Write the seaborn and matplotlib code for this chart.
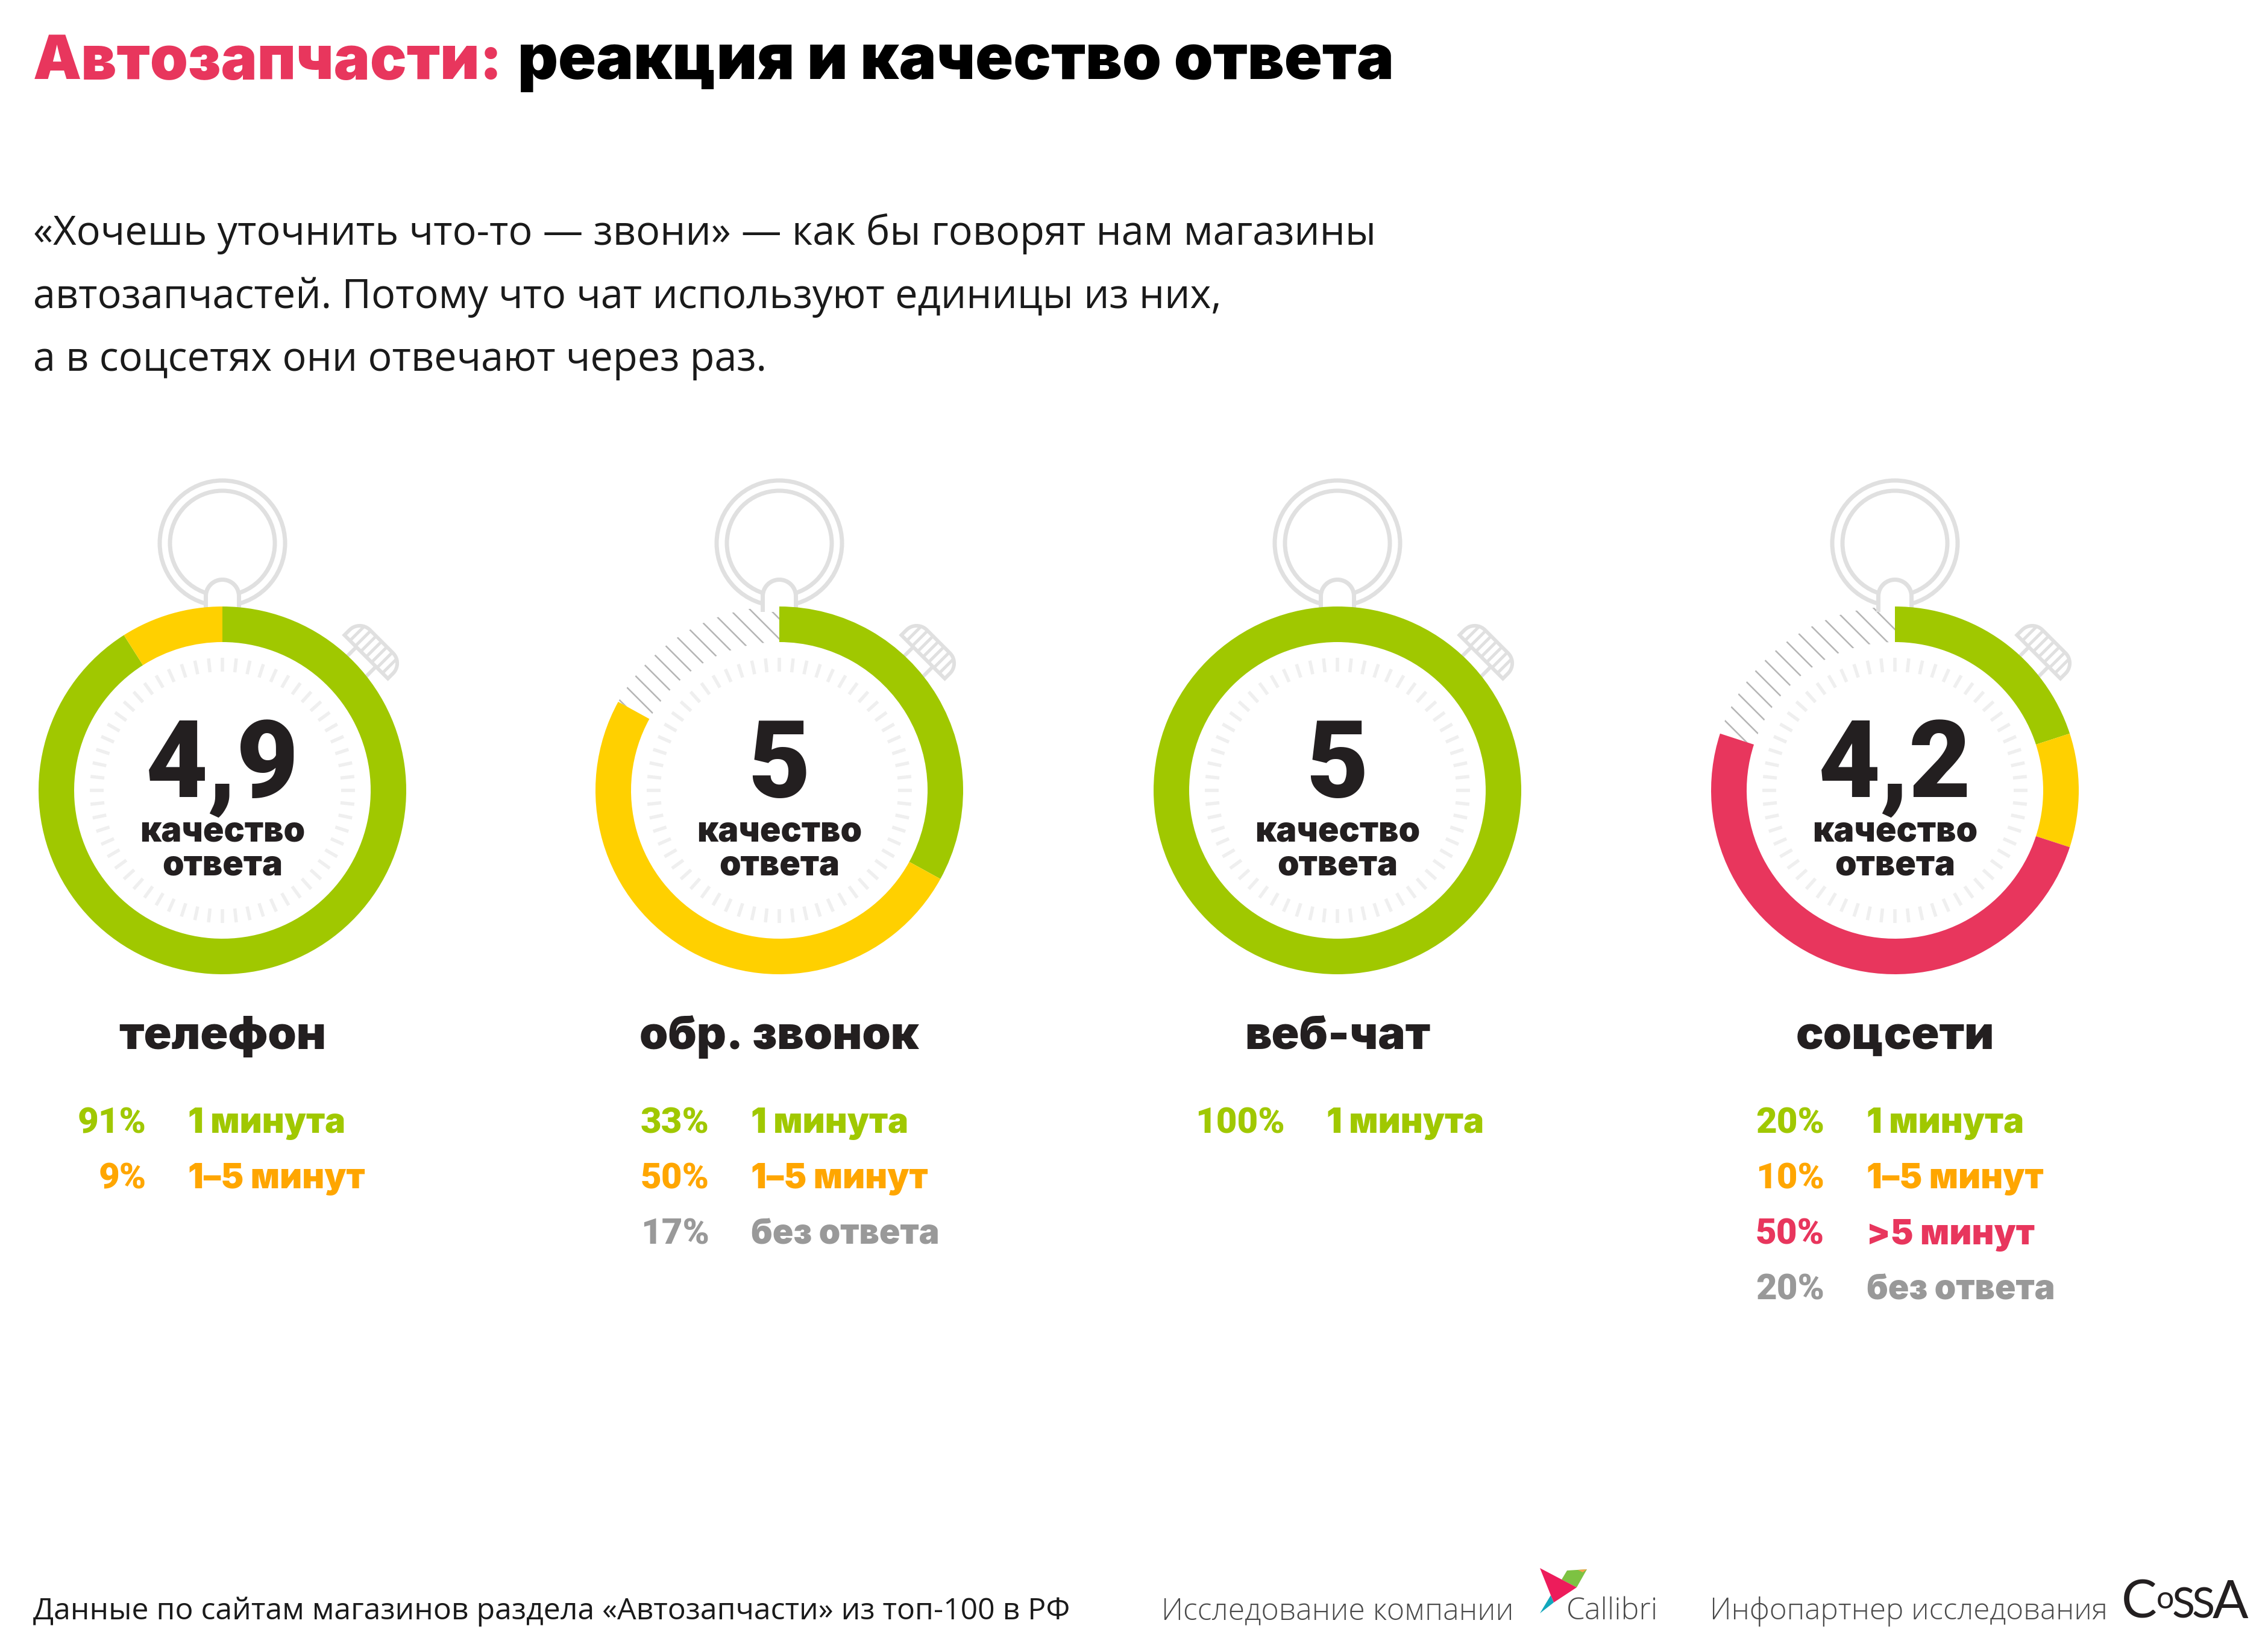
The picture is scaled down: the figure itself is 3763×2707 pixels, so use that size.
import numpy as np
import matplotlib
matplotlib.use("Agg")
import matplotlib.pyplot as plt
from matplotlib.patches import Polygon, Circle
import seaborn as sns

W, H = 3763, 2707
DPI = 100
PT = 72 / DPI

categories = ["телефон", "обр. звонок", "веб-чат", "соцсети"]
scores = ["4,9", "5", "5", "4,2"]
shares = [[91, 9], [33, 50, 17], [100], [20, 10, 50, 20]]
keys = [["fast", "mid"], ["fast", "mid", "none"], ["fast"], ["fast", "mid", "slow", "none"]]
key_labels = {"fast": "1 минута", "mid": "1–5 минут", "slow": ">5 минут", "none": "без ответа"}

centers_x = [369, 1293, 2219, 3144]
pct_right = [243, 1177, 2132, 3027]
lab_left = [312, 1246, 2201, 3097]
rows_y = [1879, 1971, 2064, 2156]

sns.set_theme(style="white")
ring_colors = dict(zip(["fast", "mid", "slow"], sns.color_palette(["#A0C800", "#FFD000", "#E8365D"])))
text_colors = {"fast": "#A0C800", "mid": "#FFA600", "slow": "#E8365D", "none": "#999999"}
GRAY = "#E0E0E0"
TICK = "#EFEFEF"
DARK = "#231F20"
RED = "#E8365D"

plt.rcParams["hatch.linewidth"] = 1.8
fig = plt.figure(figsize=(W / DPI, H / DPI), dpi=DPI, facecolor="white")
ax = fig.add_axes([0, 0, 1, 1])


def Y(py):
    return H - py


def txt(x, y, s, size_px, color=DARK, family="Inter", weight="normal", ha="left", **kw):
    return ax.text(x, Y(y), s, fontsize=size_px * PT, color=color, family=family, weight=weight,
                   ha=ha, va="baseline", **kw)


HEAVY = dict(family="Inter", weight=900)
NARROW_HEAVY = dict(family="Roboto", weight=900)

for cx, val, key, name, score, pr, ll in zip(centers_x, shares, keys, categories, scores, pct_right, lab_left):
    cy = 1311
    # loop on top
    for r in (104, 87):
        ax.add_patch(Circle((cx, Y(901)), r, fill=False, ec=GRAY, lw=7 * PT, zorder=1))
    # stem
    t = np.linspace(0, np.pi, 40)
    pts = np.column_stack([cx + 27.5 * np.cos(t), Y(989) + 27.5 * np.sin(t)])
    pts = np.vstack([[cx + 27.5, Y(1015)], pts, [cx - 27.5, Y(1015)]])
    ax.add_patch(Polygon(pts, closed=False, fc="white", ec=GRAY, lw=7 * PT, zorder=2))
    # side button
    U = np.array([0.707, -0.707])
    V = np.array([0.707, 0.707])
    O = np.array([cx + 238.5, Y(cy - 221.5)])
    r = 24
    a = np.linspace(np.pi, np.pi / 2, 14)
    b = np.linspace(np.pi / 2, 0, 14)
    outline = [(-51, 0)]
    outline += [(-51 + r + r * np.cos(x), 36 - r + r * np.sin(x)) for x in a]
    outline += [(51 - r + r * np.cos(x), 36 - r + r * np.sin(x)) for x in b]
    outline += [(51, 0)]
    ax.add_patch(Polygon([O + u * U + v * V for u, v in outline], closed=True, fill=False,
                         ec=GRAY, lw=6 * PT, zorder=1, joinstyle="miter"))
    for u in np.arange(-38, 39, 12.7):
        vmax = 36 if abs(u) < 27 else 36 - r + np.sqrt(max(r**2 - (abs(u) - 27) ** 2, 0))
        p = np.array([O + u * U, O + u * U + vmax * V])
        ax.plot(p[:, 0], p[:, 1], color=GRAY, lw=5 * PT, zorder=1, solid_capstyle="butt")
    for u in (-23, 23):
        p = np.array([O + u * U, O + u * U - 30 * V])
        ax.plot(p[:, 0], p[:, 1], color=GRAY, lw=6 * PT, zorder=1, solid_capstyle="butt")
    # dial ticks
    for d in np.arange(0, 360, 6):
        th = np.radians(d)
        ax.plot([cx + 197 * np.sin(th), cx + 220 * np.sin(th)],
                [Y(cy) + 197 * np.cos(th), Y(cy) + 220 * np.cos(th)],
                color=TICK, lw=5.5 * PT, zorder=1, solid_capstyle="butt")
    # donut
    cols = [ring_colors.get(k, "white") for k in key]
    wedges, _ = ax.pie(val, center=(cx, Y(cy)), radius=305, startangle=90, counterclock=False,
                       colors=cols, wedgeprops=dict(width=59, linewidth=0), frame=True)
    for w, k in zip(wedges, key):
        w.set_zorder(3)
        if k == "none":
            w.set_hatch("\\")
            w.set_edgecolor("#B5B5B5")
            w.set_linewidth(0)
            w.set_zorder(0.5)
            w.set_facecolor("none")
    # centre text
    txt(cx, 1322, score, 178, ha="center", zorder=5, **NARROW_HEAVY)
    txt(cx, 1396, "качество", 57, ha="center", zorder=5, **HEAVY)
    txt(cx, 1451, "ответа", 57, ha="center", zorder=5, **HEAVY)
    txt(cx, 1740, name, 76, ha="center", zorder=5, **HEAVY)
    for s, k, ry in zip(val, key, rows_y):
        txt(pr, ry, f"{s}%", 60, color=text_colors[k], ha="right", **NARROW_HEAVY)
        txt(ll, ry, key_labels[k], 57, color=text_colors[k], family="Inter", weight=900)

# title
txt(55, 131, "Автозапчасти:", 101, color=RED, **HEAVY)
txt(859, 131, "реакция и качество ответа", 104, color="black", **HEAVY)

# intro
body = ["«Хочешь уточнить что-то — звони» — как бы говорят нам магазины",
        "автозапчастей. Потому что чат используют единицы из них,",
        "а в соцсетях они отвечают через раз."]
for line, y in zip(body, (406, 511, 615)):
    txt(55, y, line, 66.6, color="#1A1A1A", family="Open Sans")

# footer
txt(55, 2686, "Данные по сайтам магазинов раздела «Автозапчасти» из топ-100 в РФ", 50,
    color="#1A1A1A", family="Open Sans")
txt(1927, 2686, "Исследование компании", 50, color="#4A4A4A", family="Open Sans", weight=300)
txt(2599, 2686, "Callibri", 50, color="#4A4A4A", family="Open Sans", weight=300)
txt(2837, 2686, "Инфопартнер исследования", 49.3, color="#4A4A4A", family="Open Sans", weight=300)

# Callibri bird
for poly, c in [([(2600, 2605), (2633, 2603), (2616, 2633), (2591, 2620)], "#7DC242"),
                ([(2618, 2604), (2633, 2603), (2626, 2608)], "#F7A24B"),
                ([(2573, 2646), (2578, 2658), (2555, 2676)], "#12A8BC"),
                ([(2555, 2601), (2616, 2633), (2578, 2658), (2573, 2646)], "#ED1C5B")]:
    ax.add_patch(Polygon([(x, Y(y)) for x, y in poly], closed=True, fc=c, ec="none", zorder=4))

# CoSSA wordmark
LOGO = "#231F20"
txt(3520, 2684, "C", 88, color=LOGO, family="Lato")
txt(3578, 2668, "o", 52, color=LOGO, family="Lato")
txt(3604, 2684, "S", 70, color=LOGO, family="Lato")
txt(3637, 2684, "S", 70, color=LOGO, family="Lato")
txt(3671, 2684, "A", 88, color=LOGO, family="Lato")

ax.set_xlim(0, W)
ax.set_ylim(0, H)
ax.set_aspect("equal")
ax.axis("off")
fig.savefig("out.png", dpi=DPI, facecolor="white")
